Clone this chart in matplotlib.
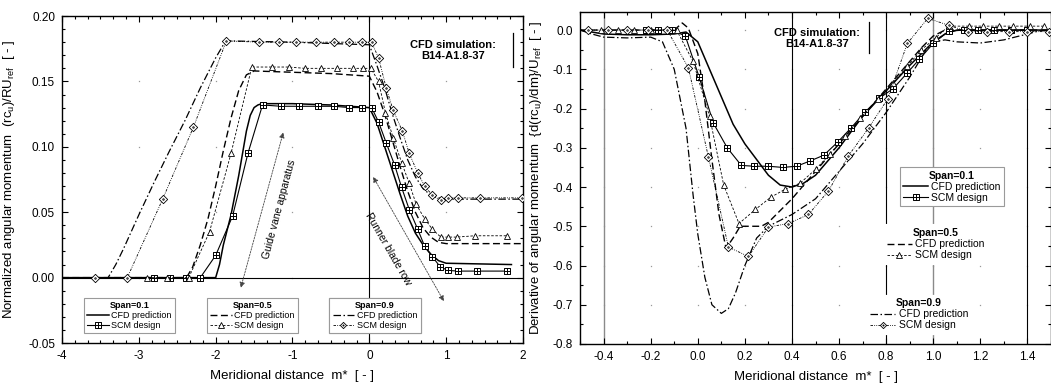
import numpy as np
import matplotlib
matplotlib.use("Agg")
import matplotlib.pyplot as plt
from matplotlib.path import Path
from matplotlib.ticker import MultipleLocator, AutoMinorLocator

plt.rcParams['font.family'] = ['Liberation Sans', 'DejaVu Sans']
plt.rcParams['mathtext.fontset'] = 'custom'
plt.rcParams['mathtext.rm'] = 'Liberation Sans'
plt.rcParams['mathtext.it'] = 'Liberation Sans:italic'
plt.rcParams['axes.unicode_minus'] = False

# ---------------- Left panel data: normalized angular momentum ----------------
L_cfd01_m = [-4, -2.0, -1.95, -1.9, -1.8, -1.7, -1.65, -1.6, -1.55, -1.5, -1.45, -1.4, -1.0, -0.5, 0.0,
             0.1, 0.2, 0.3, 0.4, 0.5, 0.6, 0.7, 0.8, 0.9, 1.0, 1.85]
L_cfd01_v = [0, 0, 0.01, 0.025, 0.048, 0.078, 0.095, 0.112, 0.124, 0.130, 0.132, 0.133, 0.133, 0.132, 0.130,
             0.118, 0.100, 0.082, 0.064, 0.047, 0.034, 0.025, 0.018, 0.013, 0.011, 0.010]
L_scm01_m = [-2.80, -2.59, -2.39, -2.2, -2.0, -1.78, -1.58, -1.39, -1.15, -0.91, -0.67, -0.46, -0.26, -0.10,
             0.03, 0.12, 0.22, 0.33, 0.42, 0.52, 0.63, 0.72, 0.82, 0.92, 1.02, 1.16, 1.40, 1.79]
L_scm01_v = [0, 0, 0, 0, 0.017, 0.047, 0.095, 0.132, 0.131, 0.131, 0.131, 0.131, 0.130, 0.130,
             0.130, 0.119, 0.103, 0.086, 0.069, 0.052, 0.037, 0.024, 0.016, 0.0085, 0.0055, 0.005, 0.005, 0.005]

L_cfd05_m = [-4, -2.38, -2.3, -2.2, -2.1, -2.0, -1.9, -1.8, -1.7, -1.6, -1.5, -1.0, -0.5, 0.0,
             0.1, 0.2, 0.3, 0.4, 0.5, 0.6, 0.7, 0.8, 0.9, 1.0, 2.0]
L_cfd05_v = [0, 0, 0.008, 0.025, 0.045, 0.07, 0.097, 0.122, 0.143, 0.155, 0.158, 0.157, 0.156, 0.154,
             0.142, 0.125, 0.105, 0.085, 0.066, 0.050, 0.038, 0.031, 0.027, 0.026, 0.026]
L_scm05_m = [-2.89, -2.63, -2.35, -2.08, -1.80, -1.53, -1.27, -1.05, -0.84, -0.63, -0.42, -0.21, -0.08, 0.02,
             0.12, 0.21, 0.31, 0.42, 0.52, 0.61, 0.72, 0.82, 0.93, 1.03, 1.14, 1.37, 1.79]
L_scm05_v = [0, 0, 0, 0.035, 0.095, 0.161, 0.161, 0.161, 0.160, 0.160, 0.160, 0.160, 0.160, 0.160,
             0.150, 0.126, 0.107, 0.088, 0.072, 0.056, 0.045, 0.037, 0.031, 0.031, 0.031, 0.032, 0.032]

L_cfd09_m = [-4, -3.4, -3.3, -3.2, -3.0, -2.8, -2.6, -2.4, -2.2, -2.0, -1.9, -1.85, -1.0, -0.5, 0.0,
             0.1, 0.2, 0.3, 0.4, 0.5, 0.6, 0.7, 0.8, 0.9, 1.0, 2.0]
L_cfd09_v = [0, 0, 0.01, 0.022, 0.048, 0.073, 0.097, 0.12, 0.145, 0.168, 0.178, 0.181, 0.180, 0.179, 0.178,
             0.162, 0.145, 0.125, 0.107, 0.090, 0.077, 0.068, 0.063, 0.061, 0.060, 0.060]
L_scm09_m = [-3.57, -3.15, -2.69, -2.29, -1.86, -1.44, -1.18, -0.95, -0.69, -0.46, -0.26, -0.10, 0.03,
             0.12, 0.22, 0.31, 0.43, 0.52, 0.63, 0.72, 0.82, 0.93, 1.02, 1.16, 1.44, 1.99]
L_scm09_v = [0, 0, 0.060, 0.115, 0.181, 0.180, 0.180, 0.180, 0.180, 0.180, 0.180, 0.180, 0.180,
             0.168, 0.145, 0.128, 0.112, 0.095, 0.080, 0.070, 0.063, 0.059, 0.061, 0.061, 0.061, 0.061]

# ---------------- Right panel data: derivative of angular momentum ----------------
R_cfd01_m = [-0.5, -0.45, -0.4, -0.3, -0.2, -0.1, -0.05, 0.0, 0.05, 0.1, 0.15, 0.2, 0.25, 0.3, 0.35, 0.4,
             0.45, 0.5, 0.6, 0.7, 0.8, 0.9, 1.0, 1.05, 1.1, 1.5]
R_cfd01_v = [0, -0.005, -0.01, -0.012, -0.012, -0.01, -0.005, -0.03, -0.1, -0.17, -0.24, -0.29, -0.33, -0.37,
             -0.395, -0.40, -0.39, -0.37, -0.30, -0.22, -0.155, -0.09, -0.03, -0.01, 0, 0]
R_scm01_m = [-0.22, -0.17, -0.11, -0.053, 0.006, 0.066, 0.125, 0.185, 0.24, 0.30, 0.36, 0.42, 0.475, 0.535,
             0.595, 0.65, 0.71, 0.77, 0.83, 0.89, 0.94, 1.0, 1.065, 1.13, 1.19, 1.26, 1.33, 1.40]
R_scm01_v = [0, 0, 0, -0.015, -0.12, -0.237, -0.30, -0.345, -0.347, -0.347, -0.35, -0.347, -0.334, -0.319,
             -0.285, -0.25, -0.209, -0.174, -0.149, -0.109, -0.075, -0.034, -0.003, 0, 0, 0, 0, 0]

R_cfd05_m = [-0.5, -0.3, -0.1, -0.066, -0.04, 0.0, 0.03, 0.06, 0.09, 0.12, 0.15, 0.18, 0.27, 0.3, 0.35,
             0.4, 0.5, 0.6, 0.7, 0.8, 0.9, 0.95, 1.0, 1.05, 1.5]
R_cfd05_v = [0, 0, 0, 0.018, 0.005, -0.06, -0.18, -0.33, -0.47, -0.556, -0.53, -0.50, -0.50, -0.49, -0.46,
             -0.43, -0.36, -0.29, -0.22, -0.15, -0.08, -0.045, -0.015, 0, 0]
R_scm05_m = [-0.41, -0.34, -0.27, -0.2, -0.09, -0.02, 0.05, 0.11, 0.175, 0.245, 0.31, 0.37, 0.435, 0.5,
             0.56, 0.625, 0.69, 0.765, 0.83, 0.89, 0.95, 1.01, 1.065, 1.15, 1.21, 1.28, 1.34, 1.41, 1.47]
R_scm05_v = [0, 0, 0, 0, 0, -0.08, -0.22, -0.395, -0.493, -0.457, -0.426, -0.406, -0.39, -0.355,
             -0.317, -0.27, -0.225, -0.175, -0.135, -0.092, -0.05, -0.02, 0.01, 0.01, 0.01, 0.01, 0.01, 0.01, 0.01]

R_cfd09_m = [-0.5, -0.45, -0.4, -0.3, -0.2, -0.15, -0.1, -0.05, -0.02, 0.0, 0.03, 0.06, 0.1, 0.13, 0.16,
             0.2, 0.25, 0.3, 0.4, 0.5, 0.6, 0.7, 0.8, 0.9, 0.97, 1.0, 1.05, 1.1, 1.2, 1.3, 1.4, 1.45, 1.5]
R_cfd09_v = [0, -0.01, -0.018, -0.02, -0.018, -0.03, -0.1, -0.25, -0.42, -0.52, -0.63, -0.70, -0.722, -0.71,
             -0.67, -0.60, -0.53, -0.50, -0.47, -0.43, -0.36, -0.29, -0.21, -0.12, -0.05, -0.03, -0.025,
             -0.03, -0.033, -0.025, -0.01, -0.002, 0]
R_scm09_m = [-0.466, -0.38, -0.30, -0.21, -0.13, -0.04, 0.045, 0.13, 0.215, 0.30, 0.385, 0.47, 0.555, 0.64,
             0.725, 0.806, 0.89, 0.977, 1.066, 1.147, 1.23, 1.32, 1.40, 1.49]
R_scm09_v = [0, 0, 0, 0, 0, -0.096, -0.323, -0.553, -0.577, -0.502, -0.493, -0.47, -0.41, -0.32,
             -0.25, -0.176, -0.034, 0.03, 0.012, -0.004, -0.004, -0.004, -0.004, -0.004]

R_ref_lines = [-0.4, 0.4, 0.8, 1.0, 1.4]
R_ref_colors = ['#8a8a8a', 'black', 'black', '#8a8a8a', 'black']

span_titles = ['Span=0.1', 'Span=0.5', 'Span=0.9']
label_cfd = 'CFD prediction'
label_scm = 'SCM design'

# ---------------- custom markers ----------------
sq = [(-1, -1), (1, -1), (1, 1), (-1, 1), (-1, -1)]
cr = [(-1, 0), (1, 0), (0, -1), (0, 1)]
sqplus = Path(sq + cr, [Path.MOVETO] + [Path.LINETO] * 3 + [Path.CLOSEPOLY] +
              [Path.MOVETO, Path.LINETO, Path.MOVETO, Path.LINETO])
circ = Path.circle((0, 0), 0.18)
dia_v = [(0, -1), (1, 0), (0, 1), (-1, 0), (0, -1)]
dia_c = [Path.MOVETO] + [Path.LINETO] * 3 + [Path.CLOSEPOLY]
diadot = Path(dia_v + list(circ.vertices), dia_c + list(circ.codes))

st = dict(
    cfd01=dict(color='black', lw=1.1, ls='-'),
    scm01=dict(color='black', lw=0.8, ls='-', marker=sqplus, ms=5, mfc='white', mec='black', mew=0.7),
    cfd05=dict(color='black', lw=1.0, ls=(0, (5, 2.5))),
    scm05=dict(color='black', lw=0.6, ls=(0, (3, 2)), marker='^', ms=5, mfc='white', mec='black', mew=0.6),
    cfd09=dict(color='black', lw=0.9, ls=(0, (6, 2, 1.2, 2))),
    scm09=dict(color='black', lw=0.6, ls=(0, (3, 1.5, 1, 1.5, 1, 1.5)), marker=diadot, ms=6, mfc='white',
               mec='black', mew=0.6),
)

fig = plt.figure(figsize=(10.51, 3.85), dpi=100)
axL = fig.add_axes([0.059, 0.109, 0.4386, 0.8494])
axR = fig.add_axes([0.5519, 0.1065, 0.4481, 0.8623])

# ---------------- left panel ----------------
axL.axhline(0, color='black', lw=0.8, zorder=1)
axL.axvline(0, color='black', lw=0.8, zorder=1)
l1, = axL.plot(L_cfd01_m, L_cfd01_v, zorder=3, **st['cfd01'])
s1, = axL.plot(L_scm01_m, L_scm01_v, zorder=4, **st['scm01'])
l5, = axL.plot(L_cfd05_m, L_cfd05_v, zorder=3, **st['cfd05'])
s5, = axL.plot(L_scm05_m, L_scm05_v, zorder=4, **st['scm05'])
l9, = axL.plot(L_cfd09_m, L_cfd09_v, zorder=3, **st['cfd09'])
s9, = axL.plot(L_scm09_m, L_scm09_v, zorder=4, **st['scm09'])
axL.set_xlim(-4, 2)
axL.set_ylim(-0.05, 0.20)
axL.xaxis.set_major_locator(MultipleLocator(1))
axL.xaxis.set_minor_locator(AutoMinorLocator(6))
axL.yaxis.set_major_locator(MultipleLocator(0.05))
axL.yaxis.set_minor_locator(MultipleLocator(0.01))
axL.yaxis.set_major_formatter(matplotlib.ticker.FormatStrFormatter('%.2f'))
axL.set_xlabel('Meridional distance  m*  [ - ]', fontsize=9.5, labelpad=6)
axL.set_ylabel('Normalized angular momentum  (rc$_\\mathrm{u}$)/RU$_\\mathrm{ref}$  [ - ]', fontsize=9.5, labelpad=8)

# ---------------- right panel ----------------
for xv, c in zip(R_ref_lines, R_ref_colors):
    axR.axvline(xv, color=c, lw=1.0 if c != 'black' else 0.8, zorder=1)
r1, = axR.plot(R_cfd01_m, R_cfd01_v, zorder=3, **st['cfd01'])
rs1, = axR.plot(R_scm01_m, R_scm01_v, zorder=4, **st['scm01'])
r5, = axR.plot(R_cfd05_m, R_cfd05_v, zorder=3, **st['cfd05'])
rs5, = axR.plot(R_scm05_m, R_scm05_v, zorder=4, **st['scm05'])
r9, = axR.plot(R_cfd09_m, R_cfd09_v, zorder=3, **st['cfd09'])
rs9, = axR.plot(R_scm09_m, R_scm09_v, zorder=4, **st['scm09'])
axR.set_xlim(-0.5, 1.5)
axR.set_ylim(-0.8, 0.046)
axR.xaxis.set_major_locator(MultipleLocator(0.2))
axR.xaxis.set_minor_locator(MultipleLocator(0.1))
axR.yaxis.set_major_locator(MultipleLocator(0.1))
axR.yaxis.set_minor_locator(MultipleLocator(0.05))
axR.xaxis.set_major_formatter(matplotlib.ticker.FormatStrFormatter('%.1f'))
axR.yaxis.set_major_formatter(matplotlib.ticker.FormatStrFormatter('%.1f'))
axR.set_xlabel('Meridional distance  m*  [ - ]', fontsize=9.5, labelpad=6)
axR.set_ylabel('Derivative of angular momentum  {d(rc$_\\mathrm{u}$)/dm}/U$_\\mathrm{ref}$  [ - ]',
               fontsize=9.5, labelpad=6)

for ax in (axL, axR):
    ax.tick_params(which='both', direction='in', top=True, right=True, labelsize=8.5, width=0.8)
    ax.tick_params(which='major', length=4, pad=5)
    ax.tick_params(which='minor', length=2.5)
    for sp in ax.spines.values():
        sp.set_linewidth(1.0)
    # faint dots at major grid intersections
    xt = [t for t in ax.get_xticks() if ax.get_xlim()[0] < t < ax.get_xlim()[1]]
    yt = [t for t in ax.get_yticks() if ax.get_ylim()[0] < t < ax.get_ylim()[1]]
    gx, gy = np.meshgrid(xt, yt)
    ax.plot(gx.ravel(), gy.ravel(), ls='none', marker='s', ms=0.9, color='#999999', mew=0, zorder=0.5)


def add_legend(ax, handles, title, loc, anchor, edge=True, size=6.5):
    leg = ax.legend(handles, [label_cfd, label_scm], title=title, loc=loc, bbox_to_anchor=anchor,
                    fontsize=size, title_fontproperties={'weight': 'bold', 'size': size},
                    handlelength=2.4, handletextpad=0.3, labelspacing=0.1, borderpad=0.35,
                    borderaxespad=0, fancybox=False, framealpha=1, edgecolor='#9a9a9a' if edge else 'white')
    leg.get_frame().set_linewidth(0.8)
    for h in leg.legend_handles:
        if h.get_marker() not in (None, 'None', ''):
            h.set_markersize(4.5)
    leg.set_zorder(6)
    ax.add_artist(leg)
    return leg


add_legend(axL, [l1, s1], span_titles[0], 'lower center', (0.146, 0.03))
add_legend(axL, [l5, s5], span_titles[1], 'lower center', (0.413, 0.03))
add_legend(axL, [l9, s9], span_titles[2], 'lower center', (0.679, 0.03))
add_legend(axR, [r1, rs1], span_titles[0], 'upper center', (0.79, 0.533), size=7.5)
add_legend(axR, [r5, rs5], span_titles[1], 'upper center', (0.755, 0.36), edge=False, size=7.5)
add_legend(axR, [r9, rs9], span_titles[2], 'lower center', (0.72, 0.03), edge=False, size=7.5)

# ---------------- annotations ----------------
axL.text(0.848, 0.895, 'CFD simulation:\nB14-A1.8-37', transform=axL.transAxes, ha='center', va='center',
         fontsize=8, fontweight='bold', linespacing=1.1)
axL.plot([0.978, 0.978], [0.844, 0.948], transform=axL.transAxes, color='black', lw=0.9)
axR.text(0.504, 0.92, 'CFD simulation:\nB14-A1.8-37', transform=axR.transAxes, ha='center', va='center',
         fontsize=8, fontweight='bold', linespacing=1.1)
axR.plot([0.613, 0.613], [0.877, 0.97], transform=axR.transAxes, color='black', lw=0.9)

arrow_kw = dict(arrowstyle='<|-|>', color='#444444', lw=0.6, ls=(0, (2, 1.5)), mutation_scale=8,
                shrinkA=0, shrinkB=0)
axL.annotate('', xy=(-1.12, 0.111), xytext=(-1.673, -0.0077), arrowprops=arrow_kw, zorder=5)
axL.text(-1.17, 0.052, 'Guide vane apparatus', rotation=75, rotation_mode='anchor', ha='center', va='center',
         fontsize=7.5)
axL.annotate('', xy=(0.05, 0.077), xytext=(0.97, -0.018), arrowprops=arrow_kw, zorder=5)
axL.text(0.25, 0.022, 'Runner blade row', rotation=-60, rotation_mode='anchor', ha='center', va='center',
         fontsize=7.5)

fig.savefig('out.png', dpi=100)
